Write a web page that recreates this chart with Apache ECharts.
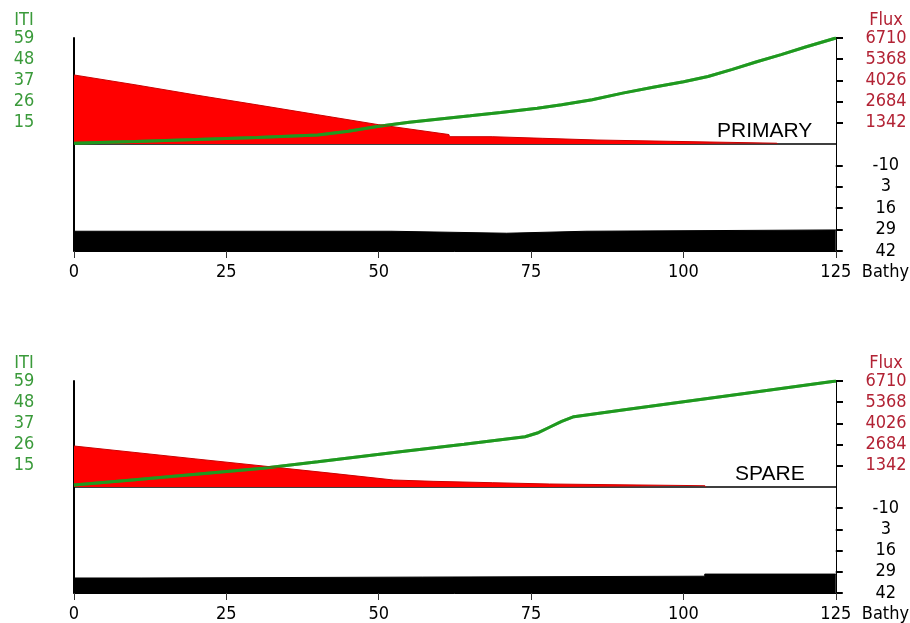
<!DOCTYPE html>
<html>
<head>
<meta charset="utf-8">
<script src="https://cdn.jsdelivr.net/npm/echarts@6/dist/echarts.min.js"></script>
<style>
  html, body { margin: 0; padding: 0; background: #fff; }
  #chart { width: 910px; height: 623px; }
</style>
</head>
<body>
<div id="chart"></div>
<script>
// distance along the line (0..125), then value
const primaryIti = [
  [0, 4.4], [10, 5.3], [20, 6.3], [30, 7.4], [40, 8.7], [45, 10.6], [50, 13.2],
  [55, 15.3], [60, 17.0], [65, 18.6], [70, 20.3], [76, 22.5], [80, 24.4],
  [85, 27.0], [90, 30.4], [95, 33.4], [100, 36.3], [104, 39.0], [108, 42.7],
  [112, 46.7], [116, 50.4], [120, 54.3], [125, 59]
];
const primaryFlux = [
  [0, 4370], [10, 3750], [20, 3100], [30, 2480], [40, 1850], [50, 1220],
  [61.5, 600], [61.6, 462], [68.6, 462], [68.7, 360], [76.9, 360], [77.0, 253],
  [85.8, 253], [85.9, 171], [97.8, 171], [97.9, 50], [115.3, 50], [115.4, 0]
];
// depth steps: each value holds until the next point
const primaryBathy = [
  [0, 30.0], [52, 31.2], [71, 30.0], [84, 29.2], [125, 29.2]
];

const spareIti = [
  [0, 5], [10, 7.8], [20, 10.6], [31, 13.7], [40, 17.1], [53.5, 22.3],
  [64, 26.2], [74, 30.1], [76, 32], [78, 35], [80, 38], [82, 40.5],
  [90, 43.9], [100, 48.2], [110, 52.5], [125, 59]
];
const spareFlux = [
  [0, 2595], [10, 2185], [20, 1775], [31, 1330], [42, 880], [52.4, 443],
  [52.5, 360], [58.9, 360], [59.0, 272], [68.7, 272], [68.8, 190], [78, 190],
  [78.1, 82], [103.5, 82], [103.6, 0]
];
const spareBathy = [
  [0, 32.8], [11, 31.7], [103.5, 30.4], [125, 30.4]
];

const panelNames = ["PRIMARY", "SPARE"];
const itiRange = { min: 4, max: 59, interval: 11 };
const fluxRange = { min: 0, max: 6710, interval: 1342 };
const bathyRange = { min: -23, max: 42, interval: 13 };
const distRange = { min: 0, max: 125, interval: 25 };

const FONT = '"Liberation Sans Narrow", "DejaVu Sans Condensed", sans-serif';
const GREEN = "#1f9a1f";
const RED = "#ff0000";
const plain = v => String(v);

const panels = [
  { top: 38, iti: primaryIti, flux: primaryFlux, bathy: primaryBathy },
  { top: 381, iti: spareIti, flux: spareFlux, bathy: spareBathy }
];

const grids = [];
const xAxes = [];
const yAxes = [];
const series = [];

panels.forEach((p, i) => {
  const g = i * 2;
  const y = i * 4;
  grids.push({ left: 74, right: 74, top: p.top, height: 106 });
  grids.push({ left: 74, right: 74, top: p.top + 106, height: 107 });

  xAxes.push({
    type: "value", gridIndex: g, min: distRange.min, max: distRange.max,
    axisLine: { show: true, onZero: false, lineStyle: { color: "#000", width: 1.5 } },
    axisTick: { show: false }, axisLabel: { show: false }, splitLine: { show: false }
  });
  xAxes.push({
    type: "value", gridIndex: g + 1, min: distRange.min, max: distRange.max,
    interval: distRange.interval,
    name: "Bathy", nameLocation: "end", nameGap: 26,
    nameTextStyle: { color: "#000", fontFamily: FONT, fontSize: 18, verticalAlign: "top", padding: [12, 0, 0, 0] },
    axisLine: { show: true, onZero: false, lineStyle: { color: "#000", width: 1 } },
    axisTick: { show: true, length: 7, lineStyle: { color: "#333", width: 1 } },
    axisLabel: { color: "#000", fontFamily: FONT, fontSize: 18, margin: 12 },
    splitLine: { show: false }
  });

  // ITI (left), Flux (right)
  yAxes.push({
    type: "value", gridIndex: g, position: "left",
    min: itiRange.min, max: itiRange.max, interval: itiRange.interval,
    name: "ITI", nameLocation: "end", nameGap: 5,
    nameTextStyle: { color: "#3a9a3a", fontFamily: FONT, fontSize: 18, padding: [0, 100, 0, 0] },
    axisLine: { show: true, onZero: false, lineStyle: { color: "#000", width: 2 } },
    axisTick: { show: false },
    axisLabel: { color: "#3a9a3a", fontFamily: FONT, fontSize: 18, margin: 50, align: "center", showMinLabel: false },
    splitLine: { show: false }
  });
  yAxes.push({
    type: "value", gridIndex: g, position: "right",
    min: fluxRange.min, max: fluxRange.max, interval: fluxRange.interval,
    name: "Flux", nameLocation: "end", nameGap: 5,
    nameTextStyle: { color: "#b22234", fontFamily: FONT, fontSize: 18, padding: [0, 0, 0, 100] },
    axisLine: { show: true, onZero: false, lineStyle: { color: "#000", width: 1 } },
    axisTick: { show: true, length: 7, lineStyle: { color: "#000", width: 2 } },
    axisLabel: { color: "#b22234", fontFamily: FONT, fontSize: 18, margin: 50, align: "center", showMinLabel: false, formatter: plain },
    splitLine: { show: false }
  });
  // lower pane: plain left line, Bathy on the right
  yAxes.push({
    type: "value", gridIndex: g + 1, position: "left", inverse: true,
    min: bathyRange.min, max: bathyRange.max,
    axisLine: { show: true, onZero: false, lineStyle: { color: "#000", width: 2 } },
    axisTick: { show: false }, axisLabel: { show: false }, splitLine: { show: false }
  });
  yAxes.push({
    type: "value", gridIndex: g + 1, position: "right", inverse: true,
    min: bathyRange.min, max: bathyRange.max, interval: bathyRange.interval,
    axisLine: { show: true, onZero: false, lineStyle: { color: "#000", width: 1 } },
    axisTick: { show: true, length: 7, lineStyle: { color: "#000", width: 2 } },
    axisLabel: { color: "#000", fontFamily: FONT, fontSize: 18, margin: 50, align: "center", showMinLabel: false, formatter: plain },
    splitLine: { show: false }
  });

  // green under the red, red area, then faint green over it so the overlap looks olive
  series.push({
    type: "line", xAxisIndex: g, yAxisIndex: y, data: p.iti, symbol: "none",
    lineStyle: { color: GREEN, width: 3 }
  });
  series.push({
    type: "line", xAxisIndex: g, yAxisIndex: y + 1, data: p.flux, symbol: "none",
    lineStyle: { color: "#cc0000", width: 1 },
    areaStyle: { color: RED, opacity: 1 }
  });
  series.push({
    type: "line", xAxisIndex: g, yAxisIndex: y, data: p.iti, symbol: "none",
    lineStyle: { color: GREEN, width: 3, opacity: 0.6 }
  });
  series.push({
    type: "line", xAxisIndex: g + 1, yAxisIndex: y + 3, data: p.bathy, symbol: "none",
    step: "end",
    lineStyle: { color: "#000", width: 1 },
    areaStyle: { color: "#000", opacity: 1, origin: "end" }
  });
});

const chart = echarts.init(document.getElementById("chart"));
chart.setOption({
  animation: false,
  backgroundColor: "#fff",
  grid: grids,
  xAxis: xAxes,
  yAxis: yAxes,
  series,
  graphic: [
    { type: "text", left: 717, top: 121, style: { text: panelNames[0], fill: "#000", font: '21px "Liberation Sans", Arial, sans-serif' } },
    { type: "text", left: 735, top: 464, style: { text: panelNames[1], fill: "#000", font: '21px "Liberation Sans", Arial, sans-serif' } }
  ]
});
</script>
</body>
</html>
